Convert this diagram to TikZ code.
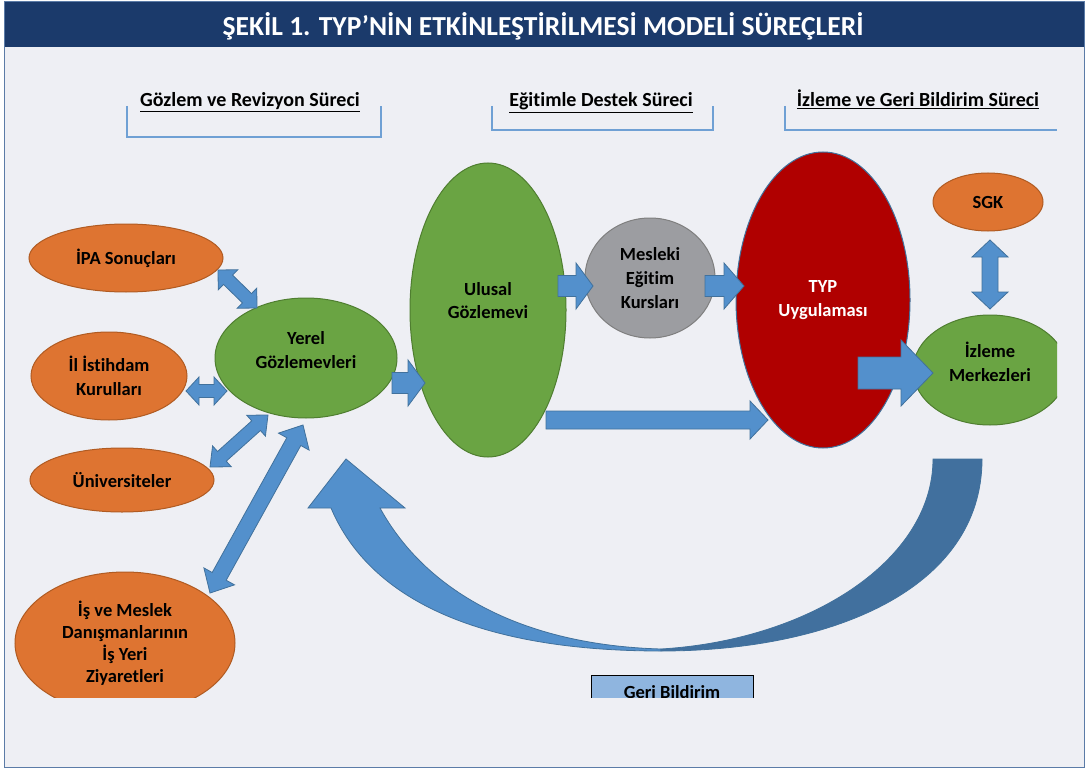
\documentclass[tikz,border=0pt]{standalone}
\usepackage{fontspec}
\setmainfont{Carlito}[Ligatures=NoCommon]
\usetikzlibrary{calc, shapes.geometric}

\definecolor{titlebar}{HTML}{1B3A6B}
\definecolor{panel}{HTML}{EEEFF4}
\definecolor{frameline}{HTML}{5B7BA7}
\definecolor{orangefill}{HTML}{DE7431}
\definecolor{orangeline}{HTML}{B05B22}
\definecolor{greenfill}{HTML}{6AA443}
\definecolor{greenline}{HTML}{4F7E30}
\definecolor{grayfill}{HTML}{9C9DA1}
\definecolor{grayline}{HTML}{7F7F7F}
\definecolor{redfill}{HTML}{B00000}
\definecolor{arrowfill}{HTML}{5390CC}
\definecolor{arrowline}{HTML}{41719C}
\definecolor{arrowdark}{HTML}{41709E}
\definecolor{bracketline}{HTML}{6FA0D4}
\definecolor{boxfill}{HTML}{8FB5DF}

\tikzset{
  lbl/.style={font=\fontsize{18.5}{24}\selectfont\bfseries, align=center},
  oval/.style={ellipse, lbl, inner sep=0pt, outer sep=0pt, line width=1pt},
  orangeoval/.style={oval, fill=orangefill, draw=orangeline},
  greenoval/.style={oval, fill=greenfill, draw=greenline},
  grayoval/.style={oval, fill=grayfill, draw=grayline},
  redoval/.style={oval, fill=redfill, draw=arrowline, text=white},
  blockarrow/.style={fill=arrowfill, draw=arrowline, line width=0.8pt, line join=miter},
  heading/.style={font=\fontsize{20}{24}\selectfont\bfseries, anchor=base},
  bracket/.style={draw=bracketline, line width=1.5pt},
}

% #1 from, #2 to, #3 half shaft, #4 half head, #5 head length
\newcommand{\dblarrow}[5]{%
  \coordinate (p1) at ($(#1)!#5!(#2)$);
  \coordinate (p2) at ($(#2)!#5!(#1)$);
  \draw[blockarrow] (#1) -- ($(p1)!#4!90:(#2)$) -- ($(p1)!#3!90:(#2)$)
    -- ($(p2)!#3!-90:(#1)$) -- ($(p2)!#4!-90:(#1)$) -- (#2)
    -- ($(p2)!#4!90:(#1)$) -- ($(p2)!#3!90:(#1)$)
    -- ($(p1)!#3!-90:(#2)$) -- ($(p1)!#4!-90:(#2)$) -- cycle;}
\newcommand{\sglarrow}[5]{%
  \coordinate (p2) at ($(#2)!#5!(#1)$);
  \draw[blockarrow] ($(#1)!#3!90:(#2)$) -- ($(p2)!#3!-90:(#1)$)
    -- ($(p2)!#4!-90:(#1)$) -- (#2) -- ($(p2)!#4!90:(#1)$)
    -- ($(p2)!#3!90:(#1)$) -- ($(#1)!#3!-90:(#2)$) -- cycle;}

\begin{document}
\begin{tikzpicture}[x=1pt,y=-1pt]
\useasboundingbox (0,0) rectangle (1086,770);
\fill[white] (0,0) rectangle (1086,770);
\draw[fill=panel, draw=frameline, line width=1pt] (4.5,1.5) rectangle (1084.5,767.5);
\fill[titlebar] (5,2) rectangle (1084,47);
\node[font=\fontsize{27.5}{30}\selectfont\bfseries, text=white, anchor=base] (title) at (543,36)
  {ŞEKİL 1. TYP’NİN ETKİNLEŞTİRİLMESİ MODELİ SÜREÇLERİ};

\begin{scope}
\clip (5,48) rectangle (1057,697);

\node[heading] (hgozlem) at (250,107) {\underline{Gözlem ve Revizyon Süreci}};
\node[heading] (hegitim) at (601,107) {\underline{Eğitimle Destek Süreci}};
\node[heading] (hizleme) at (918,107) {\underline{İzleme ve Geri Bildirim Süreci}};
\draw[bracket] (127,106) -- (127,137) -- (381,137) -- (381,106);
\draw[bracket] (492,106) -- (492,130) -- (713,130) -- (713,106);
\draw[bracket] (785,106) -- (785,130) -- (1057,130);

% geri bildirim
\fill[arrowfill, draw=arrowline, line width=0.8pt] (346,459) -- (405,508) -- (380,508)
  .. controls (425,590) and (520,645) .. (661,649) -- (661,651)
  .. controls (480,651) and (370,600) .. (331,508) -- (308,508) -- cycle;
\fill[arrowdark, draw=arrowline, line width=0.8pt] (933,459)
  .. controls (933,560) and (810,640) .. (661,649) -- (661,651)
  .. controls (830,651) and (982,590) .. (982,459) -- cycle;

\node[orangeoval, minimum width=194pt, minimum height=68pt] (ipa) at (126,258) {İPA Sonuçları};
\node[orangeoval, minimum width=156pt, minimum height=88pt] (il) at (109,376) {İl İstihdam\\Kurulları};
\node[orangeoval, minimum width=184pt, minimum height=64pt] (uni) at (122,480) {Üniversiteler};
\node[orangeoval, font=\fontsize{18.5}{22}\selectfont\bfseries, minimum width=220pt, minimum height=142pt] (isv) at (125,643)
  {İş ve Meslek\\Danışmanlarının\\İş Yeri\\Ziyaretleri};
\node[greenoval, minimum width=182pt, minimum height=120pt] (yerel) at (306,358) {Yerel\\Gözlemevleri\\[-8pt]};
\node[greenoval, font=\fontsize{18.5}{23}\selectfont\bfseries, minimum width=156pt, minimum height=294pt] (ulusal) at (488,310)
  {Ulusal\\Gözlemevi\\[-5pt]};
\node[grayoval, minimum width=130pt, minimum height=120pt] (mesleki) at (650,278) {Mesleki\\Eğitim\\Kursları};
\node[redoval, minimum width=174pt, minimum height=296pt] (typ) at (823,300) {TYP\\Uygulaması};
\node[orangeoval, minimum width=110pt, minimum height=58pt] (sgk) at (988,202) {SGK};
\node[greenoval, minimum width=154pt, minimum height=110pt] (izleme) at (990,370) {İzleme\\Merkezleri\\[-8pt]};
\node[lbl, draw=black, fill=boxfill, line width=1pt, minimum width=162pt, minimum height=34pt, inner sep=0pt] (geri) at (672,692)
  {Geri Bildirim};

\coordinate (ipaend) at ($(ipa)+(92,12)$);
\coordinate (yerelipa) at ($(yerel)+(-49,-50)$);
\coordinate (ilend) at ($(il)+(77,15)$);
\coordinate (yerelil) at ($(yerel)+(-79,33)$);
\coordinate (uniend) at ($(uni)+(88,-13)$);
\coordinate (yereluni) at ($(yerel)+(-38,57)$);
\coordinate (isvend) at ($(isv)+(85,-50)$);
\coordinate (yerelisv) at ($(yerel)+(-3,67)$);
\coordinate (yerelend) at ($(yerel)+(86,25)$);
\coordinate (ulusalin) at ($(ulusal)+(-63,73)$);
\coordinate (ulusalend) at ($(ulusal)+(70,-24)$);
\coordinate (meslekiin) at ($(mesleki)+(-57,8)$);
\coordinate (meslekiend) at ($(mesleki)+(55,8)$);
\coordinate (typin) at ($(typ)+(-79,-14)$);
\coordinate (ulusallow) at ($(ulusal)+(58,110)$);
\coordinate (typlow) at ($(typ)+(-55,120)$);
\coordinate (typend) at ($(typ)+(35,73)$);
\coordinate (izlemein) at ($(izleme)+(-57,3)$);
\coordinate (sgkend) at ($(sgk)+(2,38)$);
\coordinate (izlemetop) at ($(izleme)+(0,-61)$);

\dblarrow{ipaend}{yerelipa}{6.5pt}{14pt}{14pt}
\dblarrow{ilend}{yerelil}{6.5pt}{14pt}{13pt}
\dblarrow{uniend}{yereluni}{6.5pt}{14pt}{16pt}
\dblarrow{isvend}{yerelisv}{8pt}{17.5pt}{19pt}
\sglarrow{yerelend}{ulusalin}{10.5pt}{23pt}{17pt}
\sglarrow{ulusalend}{meslekiin}{10.5pt}{23pt}{17pt}
\sglarrow{meslekiend}{typin}{10.5pt}{23pt}{20pt}
\sglarrow{ulusallow}{typlow}{9pt}{19pt}{18pt}
\sglarrow{typend}{izlemein}{16pt}{33pt}{32pt}
\dblarrow{sgkend}{izlemetop}{8pt}{18pt}{17pt}
\end{scope}
\end{tikzpicture}
\end{document}
